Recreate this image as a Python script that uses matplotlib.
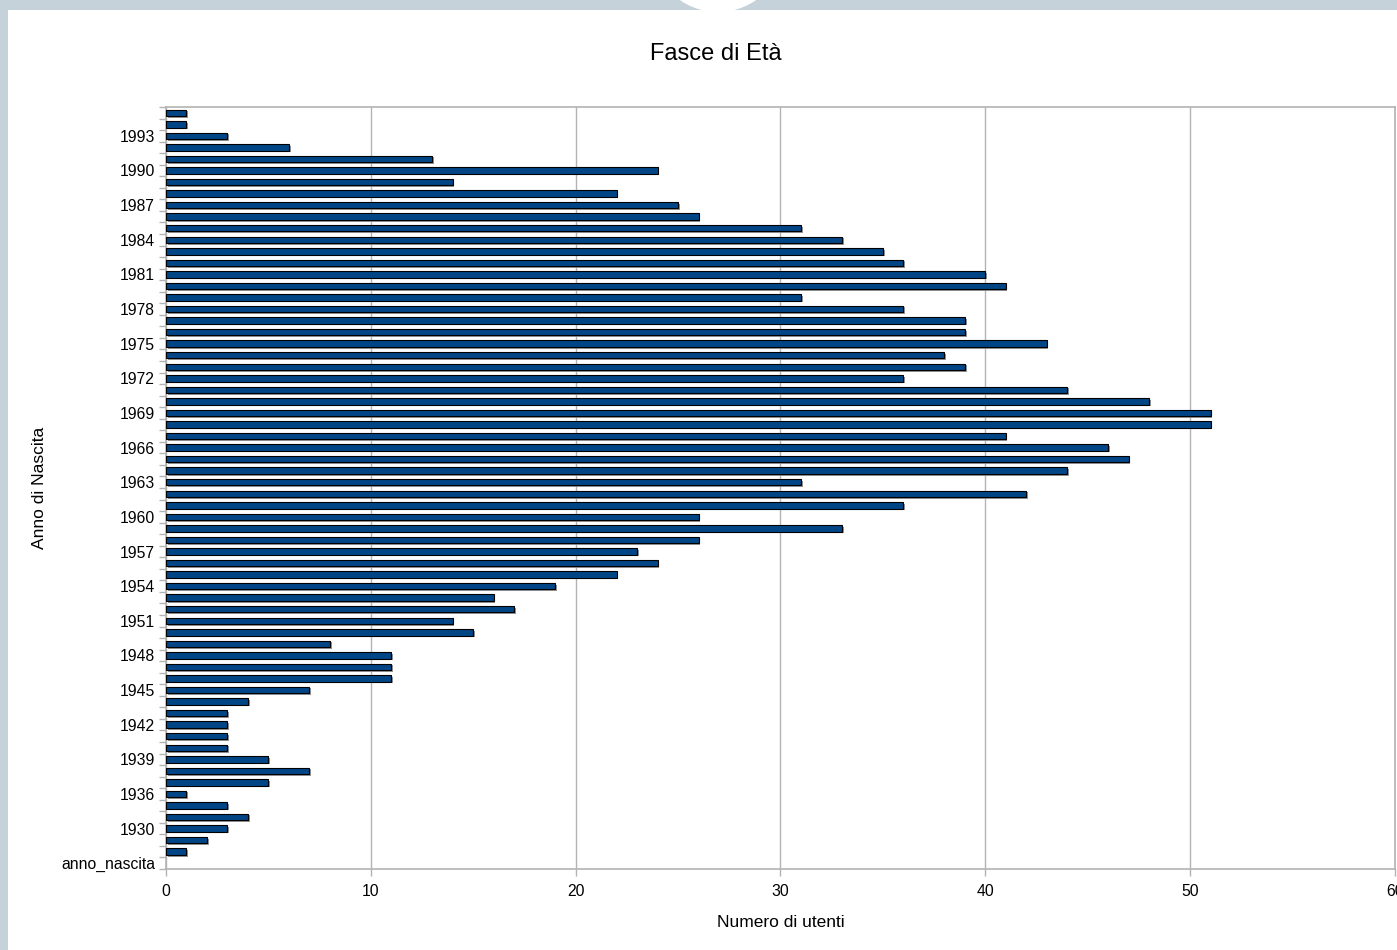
import matplotlib
matplotlib.use('Agg')
import matplotlib.pyplot as plt
import matplotlib.patheffects as pe
from matplotlib.patches import Circle, Rectangle
from matplotlib.transforms import IdentityTransform

plt.rcParams['font.family'] = ['Liberation Sans', 'DejaVu Sans']

# categories from bottom to top (as drawn)
anni = ['anno_nascita', '1927', '1929', '1930', '1933', '1935'] + [str(y) for y in range(1936, 1996)]
utenti = [0, 1, 2, 3, 4, 3,
          1, 5, 7, 5, 3, 3, 3, 3, 4, 7,            # 1936-1945
          11, 11, 11, 8, 15, 14, 17, 16, 19, 22,   # 1946-1955
          24, 23, 26, 33, 26, 36, 42, 31, 44, 47,  # 1956-1965
          46, 41, 51, 51, 48, 44, 36, 39, 38, 43,  # 1966-1975
          39, 39, 36, 31, 41, 40, 36, 35, 33, 31,  # 1976-1985
          26, 25, 22, 14, 24, 13, 6, 3, 1, 1]      # 1986-1995
x_ticks = [0, 10, 20, 30, 40, 50, 60]

bg = '#c6d2da'
grey = '#b3b3b3'

fig = plt.figure(figsize=(13.97, 9.5), dpi=100, facecolor=bg)
# white panel and the round tab on the top border (pixel coords)
fig.patches.append(Rectangle((8, 0), 1400, 940, transform=IdentityTransform(),
                             facecolor='white', edgecolor='none', zorder=0))
fig.patches.append(Circle((718, 1005), 67, transform=IdentityTransform(),
                          facecolor='white', edgecolor='none', zorder=0))

ax = fig.add_axes([166/1397, 81/950, 1229/1397, 762/950])
ax.set_zorder(2)
ax.set_facecolor('none')

ypos = list(range(len(anni)))
bars = ax.barh(ypos, utenti, height=0.56, color='#004586', edgecolor='black',
               linewidth=0.8, zorder=3)
for b, v in zip(bars, utenti):
    if v == 0:
        b.set_visible(False)
    b.set_path_effects([pe.SimplePatchShadow(offset=(1.2, -1.2), shadow_rgbFace='#888888', alpha=0.9),
                        pe.Normal()])

ax.set_xlim(0, 60)
ax.set_ylim(-0.5, len(anni) - 0.5)
ax.set_xticks(x_ticks)
ax.set_xticklabels([str(t) for t in x_ticks])
ax.xaxis.grid(True, color=grey, linewidth=1)
ax.set_axisbelow(True)

ax.set_yticks(ypos)
ax.set_yticklabels([a if i % 3 == 0 else '' for i, a in enumerate(anni)])
ax.set_yticks([i + 0.5 for i in range(-1, len(anni))], minor=True)
ax.tick_params(axis='y', which='major', length=0, pad=8, labelsize=11.3)
ax.tick_params(axis='y', which='minor', length=5, color=grey, width=1)
ax.tick_params(axis='x', length=5, color=grey, width=1, pad=6, labelsize=11.3)

for s in ax.spines.values():
    s.set_color(grey)
    s.set_linewidth(1.2)

ax.set_xlabel('Numero di utenti', fontsize=12.5, labelpad=11)
ax.set_ylabel('Anno di Nascita', fontsize=12.5, labelpad=10)
fig.text(716/1397, 1 - 54/950, 'Fasce di Età', fontsize=17, ha='center', va='center')

fig.savefig('out.png', dpi=100, facecolor=bg)
